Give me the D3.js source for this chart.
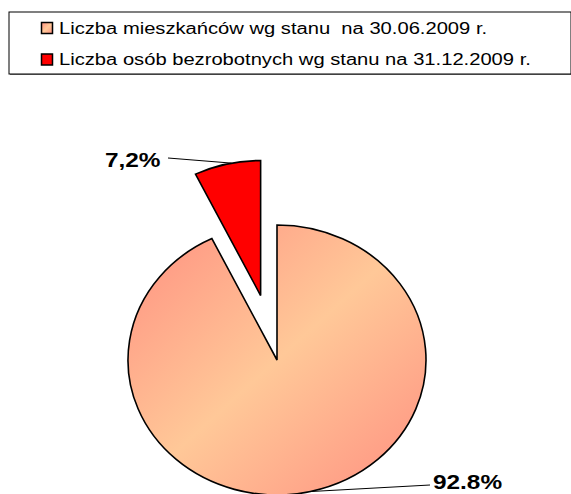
<!DOCTYPE html>
<html lang="pl">
<head>
<meta charset="UTF-8">
<title>Wykres</title>
<style>
body { margin: 0; background: #fff; }
svg text { font-family: "Liberation Sans", Arial, sans-serif; }
.legend text { font-size: 16px; white-space: pre; }
.label { font-size: 21px; font-weight: bold; }
</style>
</head>
<body>
<script src="https://cdn.jsdelivr.net/npm/d3@7"></script>
<script>
var categories = ["Liczba mieszkańców wg stanu  na 30.06.2009 r.", "Liczba osób bezrobotnych wg stanu na 31.12.2009 r."];
var values = [92.8, 7.2];
var labels = ["92.8%", "7,2%"];

var width = 571, height = 494;
var cx = 277, cy = 360, r = 135, sx = 149 / 135, explode = 0.49;
var textStretch = 1.26, labelStretch = 1.16;

var svg = d3.select('body').append('svg')
    .attr('width', width).attr('height', height);

var defs = svg.append('defs');
var grad = defs.append('linearGradient').attr('id', 'peach')
    .attr('x1', 0).attr('y1', 0).attr('x2', 1).attr('y2', 1);
grad.append('stop').attr('offset', 0).attr('stop-color', '#ff8f80');
grad.append('stop').attr('offset', 0.5).attr('stop-color', '#ffc898');
grad.append('stop').attr('offset', 1).attr('stop-color', '#ff8f80');

var fills = ['url(#peach)', '#ff0000'];

// legend
var lg = svg.append('g').attr('class', 'legend');
lg.append('rect').attr('x', 10).attr('y', 13).attr('width', 562).attr('height', 62)
    .attr('fill', '#808080');
lg.append('rect').attr('x', 9).attr('y', 12).attr('width', 562).attr('height', 62)
    .attr('fill', '#fff').attr('stroke', '#000').attr('stroke-width', 1);
var items = lg.selectAll('g.item').data(categories).enter().append('g')
    .attr('class', 'item')
    .attr('transform', function(d, i) { return 'translate(41,' + (22 + i * 31.5) + ')'; });
items.append('rect').attr('x', 0.5).attr('y', 0.5).attr('width', 11).attr('height', 11)
    .attr('fill', function(d, i) { return fills[i]; })
    .attr('stroke', '#000').attr('stroke-width', 1.5);
items.append('text').attr('x', 18).attr('y', 11.5).text(function(d) { return d; })
    .each(function() {
      var w = this.getComputedTextLength();
      d3.select(this).attr('textLength', w * textStretch).attr('lengthAdjust', 'spacingAndGlyphs');
    });

// pie
var pie = d3.pie().sort(null).value(function(d) { return d; });
var arcs = pie(values);
var arc = d3.arc().innerRadius(0).outerRadius(r);

function offset(d, i) {
  if (i !== 1) return [0, 0];
  var a = (d.startAngle + d.endAngle) / 2;
  return [Math.sin(a) * r * explode * sx, -Math.cos(a) * r * explode];
}

var pg = svg.append('g');
pg.selectAll('path').data(arcs).enter().append('path')
    .attr('transform', function(d, i) {
      var o = offset(d, i);
      return 'translate(' + (cx + o[0]) + ',' + (cy + o[1]) + ') scale(' + sx + ',1)';
    })
    .attr('d', arc)
    .attr('fill', function(d, i) { return fills[i]; })
    .attr('stroke', '#000').attr('stroke-width', 1.6)
    .attr('stroke-linejoin', 'miter')
    .attr('vector-effect', 'non-scaling-stroke');

// labels with leader lines
var labelPos = [{x: 433, y: 489, lx: 430, ly: 485},
                {x: 105, y: 167, lx: 168, ly: 158}];
arcs.forEach(function(d, i) {
  var o = offset(d, i);
  var a = (d.startAngle + d.endAngle) / 2 + (i === 1 ? 0.03 : 0);
  var px = cx + o[0] + Math.sin(a) * r * sx;
  var py = cy + o[1] - Math.cos(a) * r;
  var p = labelPos[i];
  svg.append('line').attr('x1', px).attr('y1', py).attr('x2', p.lx).attr('y2', p.ly)
      .attr('stroke', '#000').attr('stroke-width', 1);
  var t = svg.append('text').attr('class', 'label').attr('x', p.x).attr('y', p.y)
      .text(labels[i]);
  var w = t.node().getComputedTextLength();
  t.attr('textLength', w * labelStretch).attr('lengthAdjust', 'spacingAndGlyphs');
});
</script>
</body>
</html>
